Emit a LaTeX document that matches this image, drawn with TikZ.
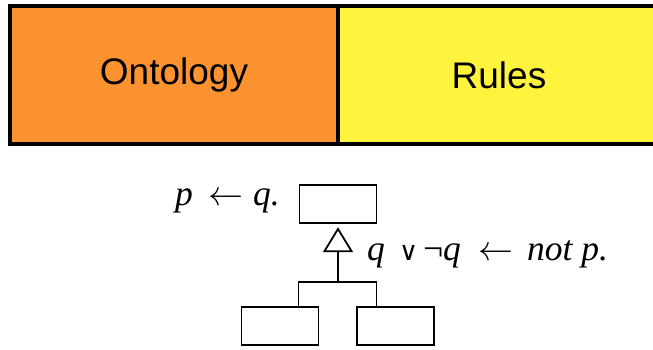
\documentclass[tikz,border=0pt]{standalone}
\usepackage{graphicx}
\usepackage{fontspec}
\setmainfont{Liberation Serif}
\newfontfamily\bandfont{Liberation Sans}
\newfontfamily\symfont{DejaVu Sans}
\usetikzlibrary{arrows.meta}
\definecolor{ontoorange}{RGB}{252,147,48}
\definecolor{rulesyellow}{RGB}{255,243,61}
\newcommand{\piece}[2]{\makebox[#1][l]{#2}}
\newcommand{\larr}{\resizebox{35pt}{!}{$\leftarrow$}}
\tikzset{
  band/.style={draw=black, line width=3.5pt, inner sep=0pt, outer sep=0pt, minimum height=138pt,
    font=\bandfont\fontsize{37}{40}\selectfont},
  cls/.style={draw=black, line width=1.8pt, inner sep=0pt, outer sep=0pt, minimum width=77pt, minimum height=38pt},
  conn/.style={line width=1.8pt},
  formula/.style={inner sep=0pt, font=\fontsize{35.5}{38}\selectfont\itshape}
}
\begin{document}
\begin{tikzpicture}[x=1pt,y=-1pt]
\useasboundingbox (0,0) rectangle (653,350);
\node[band, fill=ontoorange, minimum width=328pt] (onto) at (174,75) {Ontology};
\node[band, fill=rulesyellow, minimum width=322pt] (rules) at (499,75) {Rules};
\node[cls] (top) at (338,204.2) {};
\node[cls] (bl) at (280,325.9) {};
\node[cls] (br) at (395.3,325.9) {};
\coordinate (jl) at (298.5,281.7);
\coordinate (jm) at (338,281.7);
\coordinate (jr) at (376.5,281.7);
\draw[conn] (bl.north -| jl) |- (jr) -- (jr |- br.north);
\draw[conn, -{Triangle[open, length=25pt, width=30pt, line width=1.8pt]}, shorten >=4pt] (jm) -- (top.south);
\node[formula, anchor=base west] (t1) at (175,205.7) {\piece{33pt}{p}\piece{45pt}{\larr}q.};
\node[formula, anchor=base west] (t2) at (367,260) {\piece{32pt}{q}\piece{22pt}{\upshape\symfont\fontsize{26}{27}\selectfont ∨}\piece{22pt}{¬}\piece{35pt}{q}\piece{49pt}{\larr}not p.};
\end{tikzpicture}
\end{document}
